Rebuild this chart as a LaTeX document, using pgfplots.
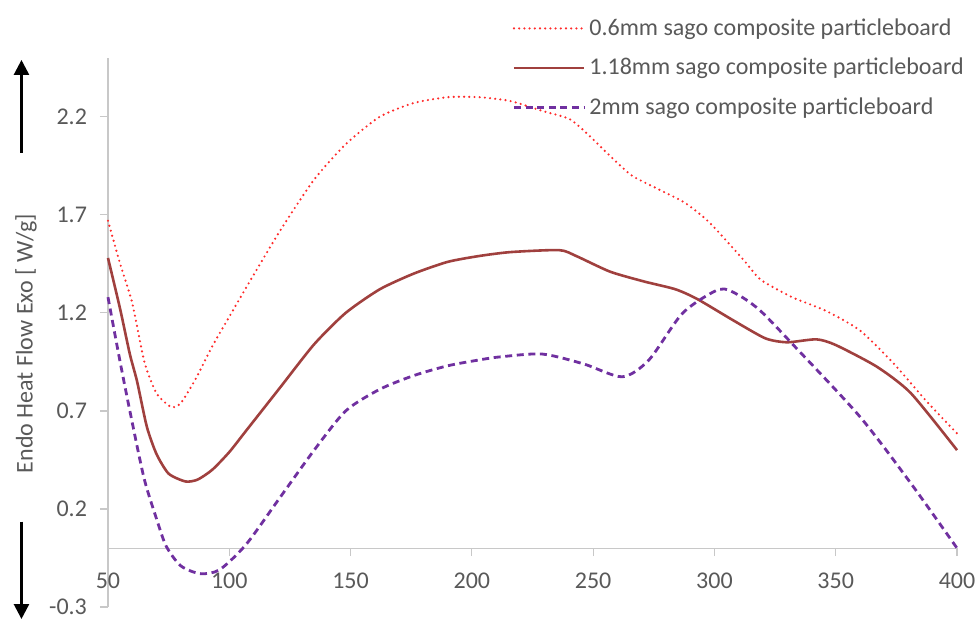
\documentclass[border=0pt]{standalone}
\usepackage{pgfplots}
\pgfplotsset{compat=1.18}
\usepackage{fontspec}
\setmainfont{Carlito}
\usetikzlibrary{arrows.meta}

\definecolor{txtgray}{HTML}{595959}
\definecolor{axgray}{HTML}{C8C8C8}
\definecolor{c06}{HTML}{FF2A2A}
\definecolor{c118}{HTML}{A0403E}
\definecolor{c2}{HTML}{7030A0}

\begin{document}
\begin{tikzpicture}
\begin{axis}[
    scale only axis,
    width=424.5pt, height=274.5pt,
    xmin=50, xmax=400, ymin=-0.3, ymax=2.5,
    axis x line=middle, axis y line=left,
    axis line style={-, draw=axgray, line width=0.6pt},
    tick align=outside, major tick length=4pt,
    tick style={draw=axgray, line width=0.6pt},
    xtick={50,100,...,400},
    xticklabels={50,100,150,200,250,300,350,400},
    ytick={-0.3,0.2,0.7,1.2,1.7,2.2},
    yticklabels={-0.3,0.2,0.7,1.2,1.7,2.2},
    hide obscured x ticks=false,
    ticklabel style={font=\fontsize{12}{14}\selectfont, text=txtgray},
    xticklabel style={yshift=-5pt},
    yticklabel style={xshift=-3pt},
    clip=false,
    ylabel={Endo Heat Flow Exo [ W/g]},
    every axis y label/.style={at={(rel axis cs:-0.0966,0.48)}, rotate=90, anchor=center,
        font=\fontsize{12}{14}\selectfont, text=txtgray},
    legend cell align=left,
    legend image code/.code={\draw[#1] (0pt,0pt) -- (35pt,0pt);},
    legend style={at={(rel axis cs:0.469,1.087)}, anchor=north west, draw=none, fill=none,
        font=\fontsize{12}{14}\selectfont, text=txtgray, row sep=6pt},
]
\addplot[c06, line width=1.2pt, line cap=round, dash pattern=on 0pt off 2.6pt, smooth, tension=0.4] coordinates {
(50,1.67) (55,1.45) (60,1.25) (65,0.95) (70,0.79) (76,0.72) (80,0.74) (86,0.86)
(93,1.03) (100,1.18) (107,1.33) (121,1.62) (135,1.88) (148,2.06) (162,2.20)
(176,2.27) (190,2.30) (203,2.30) (216,2.28) (229,2.23) (240,2.19) (247,2.12)
(257,2.00) (266,1.90) (277,1.83) (288,1.76) (298,1.66) (312,1.47) (319,1.37)
(332,1.28) (346,1.21) (360,1.11) (374,0.94) (387,0.755) (400,0.585)
};
\addlegendentry{0.6mm sago composite particleboard}
\addplot[c118, line width=1.3pt, smooth, tension=0.4] coordinates {
(50,1.48) (55,1.22) (59,0.99) (62,0.85) (66,0.62) (70,0.48) (75,0.38) (82,0.34)
(87,0.35) (93,0.40) (100,0.49) (107,0.60) (121,0.82) (135,1.04) (148,1.20)
(162,1.32) (176,1.40) (190,1.46) (203,1.49) (216,1.51) (236,1.52) (243,1.49)
(257,1.41) (271,1.36) (284,1.32) (293,1.27) (308,1.16) (321,1.07) (330,1.05)
(342,1.065) (350,1.036) (367,0.925) (381,0.79) (400,0.50)
};
\addlegendentry{1.18mm sago composite particleboard}
\addplot[c2, line width=1.4pt, dash pattern=on 3.5pt off 2.3pt, smooth, tension=0.45] coordinates {
(50,1.28) (55,0.95) (60,0.64) (65,0.35) (70,0.15) (74,0.01) (80,-0.09) (88,-0.13)
(96,-0.11) (107,0.02) (121,0.26) (135,0.50) (148,0.70) (162,0.81) (176,0.88)
(190,0.93) (203,0.96) (212,0.976) (229,0.99) (246,0.94) (262,0.874) (273,0.96)
(287,1.20) (302,1.32) (310,1.29) (319,1.21) (333,1.03) (360,0.67) (381,0.33) (400,0.0)
};
\addlegendentry{2mm sago composite particleboard}
\draw[black, line width=1.3pt, -{Triangle[length=7.5pt,width=7.5pt]}]
    (rel axis cs:-0.1019,0.827) -- (rel axis cs:-0.1019,0.9964);
\draw[black, line width=1.3pt, -{Triangle[length=7.5pt,width=7.5pt]}]
    (rel axis cs:-0.1019,0.1554) -- (rel axis cs:-0.1019,-0.0219);
\coordinate (bbl) at (rel axis cs:-0.1272,-0.0255);
\coordinate (btr) at (rel axis cs:1.0259,1.1056);
\end{axis}
\pgfresetboundingbox
\useasboundingbox (bbl) rectangle (btr);
\end{tikzpicture}
\end{document}
